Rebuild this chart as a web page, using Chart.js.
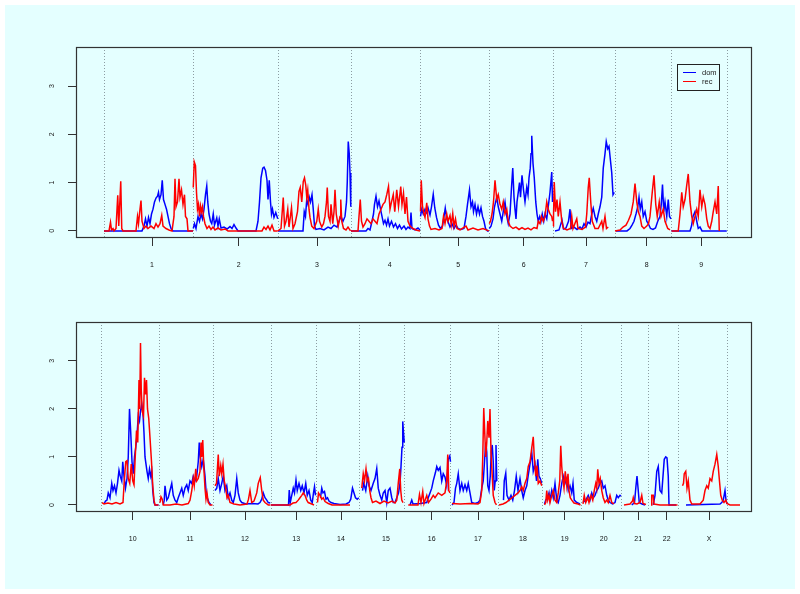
<!DOCTYPE html>
<html>
<head>
<meta charset="utf-8">
<script src="https://cdn.jsdelivr.net/npm/chart.js@4.4.1/dist/chart.umd.min.js"></script>
<style>
  html, body { margin: 0; padding: 0; background: #ffffff; }
  #page { position: relative; width: 800px; height: 594px; overflow: hidden; }
  #bg { position: absolute; left: 5px; top: 5px; width: 790px; height: 584px; background: #e4ffff; }
  canvas { position: absolute; left: 0; }
  #topChart { top: 0; }
  #botChart { top: 297px; }
</style>
</head>
<body>
<div id="page">
  <div id="bg"></div>
  <canvas id="topChart" width="800" height="297"></canvas>
  <canvas id="botChart" width="800" height="297"></canvas>
</div>
<script>
// genome positions are in map units, LOD on the y axis
const yRange = [-0.147, 3.81];
const yTicks = [0, 1, 2, 3];

const topChroms = ['1', '2', '3', '4', '5', '6', '7', '8', '9'];
const topTicks = [192, 539, 852, 1143, 1417, 1679, 1928, 2171, 2389];
const topBounds = [0, 357, 696, 987, 1265, 1540, 1795, 2043, 2269, 2491];
const topRange = [-112, 2592];

const botChroms = ['10', '11', '12', '13', '14', '15', '16', '17', '18', '19', '20', '21', '22', 'X'];
const botTicks = [127, 356, 576, 781, 960, 1140, 1323, 1508, 1688, 1855, 2011, 2149, 2263, 2432];
const botBounds = [0, 231, 447, 679, 861, 1032, 1213, 1397, 1587, 1764, 1921, 2081, 2189, 2308, 2503];
const botRange = [-100, 2604];

// chromosomes 1-9
const domTop = [
  [[0,0],[152,0],[160,0.1],[166,0.25],[172,0.1],[178,0.28],[184,0.15],[190,0.35],[196,0.45],[202,0.6],[208,0.68],[214,0.72],[218,0.8],[222,0.65],[228,0.75],[233,1.05],[238,0.65],[244,0.55],[250,0.45],[256,0.3],[262,0.15],[268,0.05],[276,0],[356,0]],
  [[357,0.05],[362,0.15],[368,0.05],[376,0.3],[382,0.2],[388,0.35],[394,0.25],[400,0.45],[406,0.75],[411,0.93],[415,0.6],[420,0.35],[426,0.2],[431,0.15],[437,0.35],[442,0.12],[451,0.27],[456,0.1],[461,0.25],[468,0.06],[480,0.08],[492,0.04],[504,0.09],[512,0.05],[520,0.13],[528,0.06],[536,0],[608,0],[616,0.2],[622,0.6],[628,1.1],[635,1.3],[640,1.32],[646,1.25],[652,1.05],[656,0.65],[661,1.05],[666,0.6],[670,0.35],[674,0.45],[680,0.28],[687,0.38],[695,0.25]],
  [[696,0],[796,0],[801,0.4],[806,0.3],[811,0.65],[816,0.55],[821,0.7],[826,0.6],[832,0.75],[837,0.45],[842,0.1],[848,0.03],[864,0.05],[880,0.02],[896,0.08],[908,0.05],[920,0.12],[932,0.08],[940,0.2],[948,0.3],[956,0.2],[964,0.3],[970,0.6],[973,1.0],[977,1.85],[981,1.6],[984,1.2],[987,0.5]],
  [[988,0],[1048,0],[1056,0.05],[1064,0.02],[1072,0.2],[1078,0.35],[1082,0.55],[1088,0.72],[1094,0.5],[1100,0.62],[1106,0.45],[1112,0.3],[1118,0.15],[1124,0.22],[1130,0.12],[1136,0.25],[1142,0.1],[1150,0.2],[1158,0.08],[1166,0.15],[1174,0.05],[1182,0.12],[1190,0.04],[1200,0.1],[1208,0.03],[1216,0.08],[1224,0.05],[1228,0.38],[1232,0.05],[1244,0.02],[1256,0.06],[1264,0.02]],
  [[1266,0.3],[1271,0.45],[1277,0.35],[1284,0.45],[1290,0.38],[1296,0.48],[1304,0.33],[1310,0.5],[1317,0.76],[1323,0.48],[1330,0.28],[1338,0.12],[1346,0.05],[1354,0.1],[1360,0.3],[1365,0.47],[1371,0.25],[1377,0.18],[1384,0.08],[1392,0.15],[1400,0.05],[1408,0.12],[1416,0.05],[1428,0.03],[1440,0.05],[1448,0.3],[1454,0.55],[1462,0.85],[1468,0.5],[1474,0.6],[1478,0.4],[1484,0.55],[1490,0.35],[1496,0.5],[1502,0.35],[1508,0.48],[1514,0.3],[1520,0.2],[1526,0.05],[1534,0],[1539,0]],
  [[1541,0.05],[1548,0.1],[1556,0.25],[1562,0.5],[1571,0.7],[1577,0.5],[1584,0.35],[1591,0.2],[1597,0.4],[1604,0.6],[1611,0.3],[1617,0.15],[1624,0.35],[1630,0.9],[1635,1.3],[1640,0.7],[1644,0.45],[1648,0.25],[1652,0.6],[1657,0.8],[1662,1.0],[1666,0.7],[1672,1.15],[1678,0.85],[1684,0.6],[1691,0.9],[1696,0.75],[1700,1.1],[1705,1.3],[1708,1.6],[1711,1.97],[1716,1.4],[1721,1.1],[1727,0.6],[1732,0.35],[1737,0.2],[1743,0.3],[1748,0.2],[1753,0.35],[1759,0.2],[1764,0.35],[1771,0.25],[1777,0.5],[1784,0.8],[1791,1.22],[1794,0.6]],
  [[1804,0],[1820,0.02],[1826,0.12],[1832,0.22],[1838,0.04],[1848,0.06],[1858,0.2],[1864,0.45],[1869,0.05],[1880,0.08],[1892,0.03],[1904,0.08],[1912,0.04],[1920,0.15],[1928,0.08],[1936,0.18],[1944,0.15],[1951,0.35],[1957,0.47],[1964,0.3],[1971,0.2],[1977,0.35],[1984,0.5],[1991,0.7],[1997,1.3],[2004,1.6],[2009,1.85],[2015,1.7],[2020,1.75],[2025,1.5],[2031,1.2],[2036,0.75],[2041,0.8]],
  [[2048,0],[2092,0],[2104,0.05],[2112,0.12],[2120,0.2],[2128,0.35],[2135,0.5],[2140,0.7],[2145,0.45],[2151,0.6],[2157,0.3],[2164,0.4],[2171,0.2],[2177,0.15],[2186,0.05],[2196,0.03],[2206,0.06],[2215,0.2],[2224,0.3],[2229,0.55],[2234,0.96],[2239,0.4],[2244,0.6],[2251,0.3],[2257,0.65],[2262,0.3],[2268,0.25]],
  [[2270,0],[2344,0],[2350,0.1],[2356,0.3],[2364,0.4],[2371,0.2],[2377,0.05],[2384,0.08],[2392,0],[2491,0]]
];

const recTop = [
  [[0,0],[20,0],[26,0.18],[30,0.02],[36,0.05],[40,0],[48,0.05],[55,0.74],[59,0.1],[67,1.03],[71,0.05],[76,0],[128,0],[134,0.3],[138,0.15],[144,0.45],[148,0.63],[152,0.2],[160,0.05],[168,0.1],[176,0.05],[188,0.1],[200,0.05],[208,0.15],[216,0.08],[224,0.15],[231,0.32],[236,0.1],[248,0.05],[260,0.02],[272,0],[280,0.3],[284,1.08],[288,0.5],[294,0.6],[300,1.08],[304,0.7],[310,0.85],[316,0.55],[322,0.75],[326,0.3],[332,0.25],[336,0],[356,0]],
  [[357,0.9],[361,1.43],[366,1.35],[370,0.8],[374,0.45],[378,0.55],[382,0.3],[386,0.52],[390,0.4],[394,0.5],[398,0.3],[404,0.15],[412,0.05],[420,0.1],[428,0.03],[436,0.08],[444,0.02],[456,0.06],[468,0.02],[484,0.04],[496,0],[632,0],[640,0.08],[648,0.03],[656,0.1],[664,0.02],[672,0.12],[680,0],[695,0]],
  [[696,0],[708,0.05],[717,0.69],[722,0.1],[728,0.2],[735,0.45],[740,0.08],[750,0.48],[756,0.05],[764,0.15],[774,0.4],[780,0.82],[785,0.9],[791,0.6],[797,1.02],[802,1.1],[807,0.95],[811,0.7],[815,0.85],[820,0.45],[824,0.28],[831,0.1],[840,0.05],[851,0.2],[857,0.45],[862,0.2],[871,0.08],[878,0.15],[884,0.3],[890,0.6],[893,0.9],[898,0.3],[904,0.2],[908,0.55],[915,0.15],[920,0.4],[924,0.85],[929,0.35],[937,0.1],[944,0.3],[947,0.65],[951,0.2],[958,0.05],[968,0.02],[976,0.08],[986,0]],
  [[988,0],[1016,0],[1020,0.3],[1025,0.65],[1030,0.2],[1036,0.08],[1044,0.15],[1052,0.25],[1060,0.2],[1068,0.15],[1076,0.25],[1084,0.2],[1092,0.15],[1100,0.35],[1108,0.45],[1116,0.55],[1124,0.6],[1131,0.75],[1138,0.92],[1144,0.45],[1150,0.6],[1157,0.75],[1163,0.4],[1171,0.85],[1178,0.5],[1187,0.92],[1192,0.55],[1198,0.78],[1204,0.35],[1210,0.7],[1216,0.2],[1224,0.1],[1236,0.05],[1248,0.02],[1264,0]],
  [[1266,0.4],[1269,1.05],[1274,0.5],[1280,0.35],[1284,0.28],[1291,0.58],[1296,0.25],[1302,0.1],[1308,0.03],[1324,0.05],[1340,0.02],[1352,0.05],[1358,0.3],[1364,0.15],[1371,0.35],[1376,0.2],[1384,0.32],[1389,0.12],[1395,0.36],[1400,0.1],[1406,0.25],[1412,0.05],[1424,0.02],[1448,0.1],[1456,0.02],[1476,0.06],[1496,0.02],[1516,0.05],[1539,0]],
  [[1541,0.15],[1546,0.2],[1552,0.35],[1558,0.6],[1564,1.05],[1571,0.65],[1577,0.75],[1584,0.55],[1591,0.45],[1597,0.6],[1604,0.35],[1611,0.45],[1617,0.2],[1624,0.1],[1636,0.05],[1648,0.08],[1660,0.03],[1672,0.07],[1684,0.03],[1696,0.06],[1708,0.02],[1720,0.07],[1732,0.05],[1737,0.2],[1744,0.15],[1750,0.3],[1757,0.2],[1764,0.3],[1771,0.6],[1777,0.45],[1784,0.35],[1791,0.3],[1794,0.2]],
  [[1796,0.1],[1798,0.3],[1801,1.01],[1806,0.4],[1812,0.65],[1817,0.3],[1824,0.6],[1831,0.2],[1838,0.05],[1852,0.02],[1866,0.05],[1871,0.3],[1876,0.05],[1891,0.25],[1896,0.05],[1912,0.03],[1926,0.08],[1931,0.35],[1937,0.9],[1941,1.1],[1947,0.6],[1953,0.2],[1964,0.05],[1977,0.05],[1991,0.2],[1996,0.05],[2004,0.3],[2010,0.05],[2017,0.08]],
  [[2044,0],[2064,0.02],[2076,0.08],[2088,0.12],[2098,0.22],[2108,0.35],[2117,0.6],[2124,0.98],[2131,0.6],[2137,0.4],[2144,0.3],[2151,0.1],[2160,0.05],[2171,0.1],[2178,0.15],[2184,0.3],[2193,0.8],[2200,1.15],[2207,0.55],[2213,0.3],[2221,0.6],[2228,0.3],[2237,0.45],[2244,0.2],[2255,0.05],[2264,0.02]],
  [[2270,0],[2297,0],[2304,0.35],[2311,0.8],[2317,0.5],[2324,0.65],[2331,0.95],[2337,1.18],[2344,0.6],[2351,0.3],[2357,0.15],[2364,0.3],[2371,0.45],[2377,0.3],[2384,0.85],[2391,0.5],[2397,0.7],[2404,0.55],[2411,0.25],[2417,0.1],[2424,0.05],[2431,0.2],[2437,0.4],[2444,0.6],[2451,0.35],[2457,0.93],[2461,0]]
];

// chromosomes 10-22, X
const domBot = [
  [[12,0.02],[18,0.08],[24,0.1],[29,0.25],[36,0.15],[43,0.45],[48,0.3],[54,0.4],[60,0.25],[66,0.45],[72,0.72],[77,0.6],[83,0.5],[87,0.9],[92,0.6],[98,0.35],[104,0.55],[109,1.0],[114,2.0],[119,1.5],[124,0.9],[129,0.65],[134,1.0],[139,1.2],[144,1.45],[149,1.85],[154,1.75],[158,1.95],[163,2.1],[168,1.9],[172,1.5],[176,1.0],[180,0.85],[184,0.7],[189,0.55],[194,0.75],[199,0.6],[203,0.7],[207,0.3],[212,0.05],[216,0],[230,0]],
  [[249,0],[253,0.1],[256,0.4],[263,0.1],[269,0.15],[276,0.3],[283,0.45],[289,0.2],[296,0.1],[303,0.05],[309,0.15],[316,0.25],[323,0.35],[329,0.2],[336,0.35],[343,0.42],[349,0.3],[356,0.5],[363,0.45],[369,0.6],[376,0.5],[383,0.6],[389,0.9],[393,1.3],[397,1.0],[403,0.8],[409,0.95],[416,0.6],[420,0.3],[425,0.15],[432,0.05],[440,0]],
  [[456,0.3],[463,0.35],[469,0.55],[476,0.3],[483,0.45],[489,0.6],[496,0.3],[503,0.4],[509,0.15],[516,0.25],[523,0.1],[529,0.05],[536,0.2],[543,0.55],[549,0.25],[556,0.1],[563,0.05],[580,0.02],[604,0.03],[628,0.02],[636,0.05],[643,0.12],[649,0.25],[656,0.15],[663,0.1],[669,0.05],[677,0.04]],
  [[680,0],[750,0],[753,0.31],[757,0.05],[763,0.2],[769,0.35],[774,0.25],[780,0.52],[785,0.3],[792,0.45],[799,0.3],[805,0.4],[812,0.25],[819,0.45],[825,0.2],[832,0.3],[839,0.1],[845,0.05],[850,0.25],[854,0.38],[858,0.2]],
  [[878,0.15],[883,0.35],[888,0.25],[894,0.28],[900,0.12],[906,0.15],[912,0.08],[920,0.05],[932,0.03],[956,0.01],[980,0.02],[992,0.05],[999,0.12],[1006,0.35],[1012,0.25],[1018,0.15],[1025,0.12],[1031,0.15]],
  [[1046,0.3],[1051,0.45],[1059,0.3],[1067,0.6],[1072,0.4],[1080,0.3],[1089,0.45],[1096,0.55],[1103,0.76],[1109,0.35],[1116,0.2],[1123,0.1],[1129,0.25],[1136,0.3],[1143,0.05],[1149,0.3],[1156,0.35],[1163,0.15],[1169,0.05],[1176,0.05],[1183,0.15],[1190,0.25],[1196,0.45],[1200,0.8],[1204,1.2],[1207,1.74],[1210,1.5],[1213,1.3]],
  [[1236,0],[1243,0.1],[1248,0.02],[1276,0.03],[1303,0.05],[1309,0.15],[1316,0.25],[1323,0.35],[1329,0.5],[1338,0.68],[1343,0.8],[1349,0.72],[1356,0.78],[1363,0.5],[1369,0.65],[1376,0.58],[1383,0.4],[1389,0.95],[1395,1.02],[1398,0.9]],
  [[1404,0],[1412,0.05],[1418,0.35],[1423,0.45],[1429,0.65],[1436,0.3],[1443,0.45],[1449,0.3],[1456,0.42],[1463,0.3],[1469,0.45],[1476,0.25],[1483,0.05],[1496,0.03],[1508,0.05],[1516,0.1],[1523,0.35],[1529,0.5],[1534,0.9],[1539,1.3],[1543,1.1],[1547,0.4],[1552,0.3],[1557,0.6],[1561,1.1],[1565,1.25],[1569,0.9],[1573,0.3],[1577,0.5],[1580,1.25],[1583,0.5]],
  [[1610,0.1],[1613,0.5],[1619,0.66],[1624,0.2],[1632,0.1],[1640,0.2],[1647,0.1],[1654,0.3],[1661,0.6],[1668,0.3],[1676,0.55],[1683,0.3],[1689,0.15],[1696,0.3],[1703,0.4],[1709,0.62],[1716,0.85],[1723,1.1],[1729,0.7],[1736,0.85],[1742,0.5],[1747,0.95],[1752,0.6],[1757,0.55],[1763,0.45]],
  [[1774,0.02],[1779,0.1],[1787,0.15],[1792,0.25],[1796,0.1],[1803,0.3],[1809,0.15],[1816,0.45],[1823,0.1],[1829,0.05],[1836,0.2],[1843,0.45],[1849,0.6],[1856,0.45],[1863,0.55],[1869,0.3],[1876,0.4],[1883,0.25],[1888,0.45],[1893,0.1],[1903,0.05],[1916,0.02]],
  [[1928,0.05],[1939,0.1],[1949,0.2],[1956,0.1],[1963,0.25],[1969,0.15],[1976,0.2],[1983,0.3],[1989,0.35],[1996,0.45],[2003,0.5],[2009,0.35],[2016,0.4],[2023,0.2],[2029,0.1],[2036,0.05],[2046,0.02],[2056,0.05],[2063,0.2],[2069,0.15],[2076,0.2],[2080,0.18]],
  [[2123,0],[2134,0.05],[2140,0.4],[2144,0.6],[2149,0.3],[2153,0.05],[2164,0.02],[2176,0]],
  [[2209,0],[2216,0.2],[2223,0.7],[2229,0.8],[2236,0.3],[2243,0.25],[2248,0.6],[2253,0.95],[2259,1.0],[2264,0.98],[2269,0.6],[2272,0],[2300,0]],
  [[2340,0],[2476,0.02],[2483,0.05],[2489,0.1],[2496,0.3],[2500,0.1],[2504,0.02]]
];

const recBot = [
  [[4,0.05],[12,0.02],[28,0.04],[44,0.02],[60,0.05],[76,0.02],[88,0.05],[93,0.5],[99,0.9],[104,0.92],[109,0.55],[115,0.45],[121,0.85],[127,0.5],[132,0.42],[136,0.9],[142,1.55],[147,1.3],[152,2.6],[155,2.0],[158,3.37],[161,2.4],[165,1.95],[170,1.85],[174,2.65],[178,2.3],[182,2.6],[186,2.0],[191,1.8],[196,1.4],[202,0.9],[207,0.4],[212,0.1],[216,0],[230,0]],
  [[236,0.05],[240,0.17],[245,0.12],[249,0],[276,0],[300,0.02],[324,0],[349,0.03],[356,0.1],[363,0.3],[369,0.55],[373,0.4],[379,0.75],[383,0.5],[389,0.55],[396,0.7],[400,1.3],[403,1.0],[407,1.35],[411,0.8],[416,0.35],[420,0.12],[424,0.25],[429,0.05],[436,0],[446,0]],
  [[456,0.4],[462,0.45],[469,1.05],[473,0.6],[479,0.82],[483,0.65],[488,0.85],[493,0.5],[499,0.35],[504,0.15],[509,0.2],[516,0.05],[532,0.02],[556,0],[584,0.02],[590,0.12],[596,0.3],[603,0.05],[612,0.08],[623,0.25],[629,0.45],[637,0.57],[643,0.3],[649,0.1],[656,0.05],[669,0],[678,0]],
  [[680,0],[756,0],[768,0.04],[780,0.05],[789,0.1],[796,0.15],[803,0.2],[809,0.25],[816,0.2],[823,0.1],[829,0.05],[843,0.02],[852,0]],
  [[866,0.05],[870,0.25],[876,0.2],[883,0.12],[889,0.15],[896,0.07],[909,0.03],[924,0],[996,0]],
  [[1043,0.35],[1049,0.65],[1054,0.5],[1060,0.75],[1065,0.5],[1070,0.55],[1075,0.3],[1080,0.15],[1086,0.05],[1100,0.08],[1116,0.03],[1132,0.08],[1148,0.04],[1164,0.08],[1176,0.04],[1183,0.1],[1189,0.45],[1195,0.75],[1199,0.3],[1203,0.1],[1208,0.05]],
  [[1229,0],[1268,0],[1274,0.22],[1280,0.05],[1287,0.28],[1292,0.03],[1303,0.2],[1310,0.05],[1320,0.12],[1329,0.2],[1336,0.15],[1349,0.25],[1363,0.2],[1376,0.25],[1383,0.5],[1387,1.05],[1391,0.3],[1396,0.25]],
  [[1404,0.03],[1436,0.02],[1476,0.03],[1508,0.02],[1516,0.05],[1523,0.3],[1527,1.0],[1531,2.02],[1535,1.5],[1539,1.0],[1543,1.3],[1547,1.75],[1552,1.4],[1556,2.0],[1560,1.1],[1564,0.7],[1569,0.2],[1576,0.05],[1582,0]],
  [[1592,0],[1608,0.02],[1620,0.05],[1632,0.1],[1644,0.15],[1656,0.2],[1668,0.25],[1676,0.3],[1683,0.38],[1689,0.3],[1696,0.45],[1703,0.55],[1709,0.8],[1716,0.9],[1722,1.15],[1729,1.42],[1733,1.0],[1739,0.6],[1744,0.82],[1749,0.45],[1756,0.5],[1763,0.4]],
  [[1774,0],[1779,0.05],[1783,0.3],[1787,0.1],[1792,0.2],[1796,0.05],[1803,0.2],[1809,0.3],[1816,0.1],[1823,0.05],[1829,0.25],[1835,0.5],[1839,1.23],[1843,0.8],[1847,0.55],[1852,0.35],[1857,0.7],[1863,0.4],[1868,0.65],[1872,0.3],[1877,0.15],[1883,0.1],[1892,0.04],[1908,0.02],[1918,0]],
  [[1928,0.02],[1933,0.2],[1939,0.05],[1947,0.15],[1952,0.05],[1960,0.2],[1967,0.1],[1973,0.3],[1979,0.45],[1983,0.35],[1987,0.74],[1992,0.45],[1997,0.55],[2003,0.3],[2009,0.15],[2016,0.05],[2023,0.1],[2029,0.05],[2036,0.2],[2043,0.05],[2052,0.02]],
  [[2092,0],[2116,0.02],[2126,0.08],[2129,0.15],[2134,0.03],[2144,0.02],[2156,0.05],[2163,0.2],[2168,0.03],[2180,0.01]],
  [[2200,0],[2203,0.2],[2209,0.2],[2212,0.02],[2236,0],[2306,0]],
  [[2326,0.4],[2330,0.45],[2333,0.65],[2339,0.7],[2344,0.35],[2349,0.5],[2356,0.1],[2363,0.02],[2396,0.02],[2409,0.1],[2416,0.3],[2423,0.4],[2429,0.35],[2436,0.55],[2443,0.5],[2449,0.7],[2456,0.85],[2463,1.05],[2469,0.8],[2473,0.55],[2479,0.2],[2485,0.1],[2492,0.05],[2499,0.1],[2504,0.03],[2516,0],[2556,0]]
];

const FONT = 'Liberation Sans, Arial, Helvetica, sans-serif';

// join chromosomes into one series with a gap between each
function toPoints(chroms) {
  const pts = [];
  chroms.forEach((c, i) => {
    if (i > 0) pts.push({ x: (pts[pts.length - 1].x + c[0][0]) / 2, y: null });
    c.forEach(p => pts.push({ x: p[0], y: p[1] }));
  });
  return pts;
}

// dotted chromosome dividers, frame, rotated y labels, legend
const framePlugin = {
  id: 'frame',
  beforeDatasetsDraw(chart, args, opts) {
    const { ctx, chartArea } = chart;
    const xs = chart.scales.x;
    ctx.save();
    ctx.strokeStyle = '#8c9ca2';
    ctx.lineWidth = 1;
    ctx.setLineDash([1, 2]);
    opts.bounds.forEach(b => {
      const px = Math.round(xs.getPixelForValue(b)) + 0.5;
      ctx.beginPath();
      ctx.moveTo(px, chartArea.top);
      ctx.lineTo(px, chartArea.bottom);
      ctx.stroke();
    });
    ctx.restore();
  },
  afterDatasetsDraw(chart, args, opts) {
    const { ctx, chartArea } = chart;
    const ys = chart.scales.y;
    ctx.save();
    ctx.strokeStyle = '#333333';
    ctx.lineWidth = 1.2;
    ctx.strokeRect(chartArea.left + 0.5, chartArea.top + 0.5,
      chartArea.right - chartArea.left - 1, chartArea.bottom - chartArea.top - 1);

    ctx.fillStyle = '#222222';
    ctx.font = '7px ' + FONT;
    ctx.textAlign = 'center';
    ctx.textBaseline = 'middle';
    ys.ticks.forEach(t => {
      const py = ys.getPixelForValue(t.value);
      ctx.save();
      ctx.translate(chartArea.left - 24, py);
      ctx.rotate(-Math.PI / 2);
      ctx.fillText(String(t.value), 0, 0);
      ctx.restore();
    });

    if (opts.legend) {
      const bx = chartArea.right - 75, by = chartArea.top + 17;
      ctx.lineWidth = 1;
      ctx.strokeStyle = '#222222';
      ctx.strokeRect(bx + 0.5, by + 0.5, 42, 26);
      ctx.textAlign = 'left';
      ctx.font = '7.5px ' + FONT;
      chart.data.datasets.forEach((ds, i) => {
        const ly = by + 8.5 + i * 9;
        ctx.strokeStyle = ds.borderColor;
        ctx.beginPath();
        ctx.moveTo(bx + 6, ly);
        ctx.lineTo(bx + 19, ly);
        ctx.stroke();
        ctx.fillStyle = '#222222';
        ctx.fillText(ds.label, bx + 25, ly);
      });
    }
    ctx.restore();
  }
};

function makeChart(id, dom, rec, chroms, ticks, bounds, range, pad, legend) {
  return new Chart(document.getElementById(id), {
    type: 'line',
    data: {
      datasets: [
        { label: 'dom', data: toPoints(dom), borderColor: '#0000ff', borderWidth: 1.5, order: 1 },
        { label: 'rec', data: toPoints(rec), borderColor: '#ff0000', borderWidth: 1.5, order: 0 }
      ]
    },
    options: {
      responsive: false,
      animation: false,
      devicePixelRatio: 1,
      layout: { padding: pad },
      elements: { point: { radius: 0 }, line: { tension: 0 } },
      spanGaps: false,
      plugins: {
        legend: { display: false },
        tooltip: { enabled: false },
        frame: { bounds: bounds, legend: legend }
      },
      scales: {
        x: {
          type: 'linear',
          min: range[0],
          max: range[1],
          afterBuildTicks: s => { s.ticks = ticks.map(v => ({ value: v })); },
          afterFit: s => { s.height = 40; },
          ticks: {
            autoSkip: false,
            maxRotation: 0,
            padding: 15,
            color: '#111111',
            font: { family: FONT, size: 7 },
            callback: (v, i) => chroms[i]
          },
          grid: { drawOnChartArea: false, drawTicks: true, tickLength: 8, color: '#333333' },
          border: { display: false }
        },
        y: {
          min: yRange[0],
          max: yRange[1],
          afterBuildTicks: s => { s.ticks = yTicks.map(v => ({ value: v })); },
          afterFit: s => { s.width = 26; },
          ticks: { display: false },
          grid: { drawOnChartArea: false, drawTicks: true, tickLength: 8, color: '#333333' },
          border: { display: false }
        }
      }
    },
    plugins: [framePlugin]
  });
}

makeChart('topChart', domTop, recTop, topChroms, topTicks, topBounds, topRange,
  { left: 50, right: 48, top: 47, bottom: 19 }, true);
makeChart('botChart', domBot, recBot, botChroms, botTicks, botBounds, botRange,
  { left: 50, right: 48, top: 25, bottom: 42 }, false);
</script>
</body>
</html>
